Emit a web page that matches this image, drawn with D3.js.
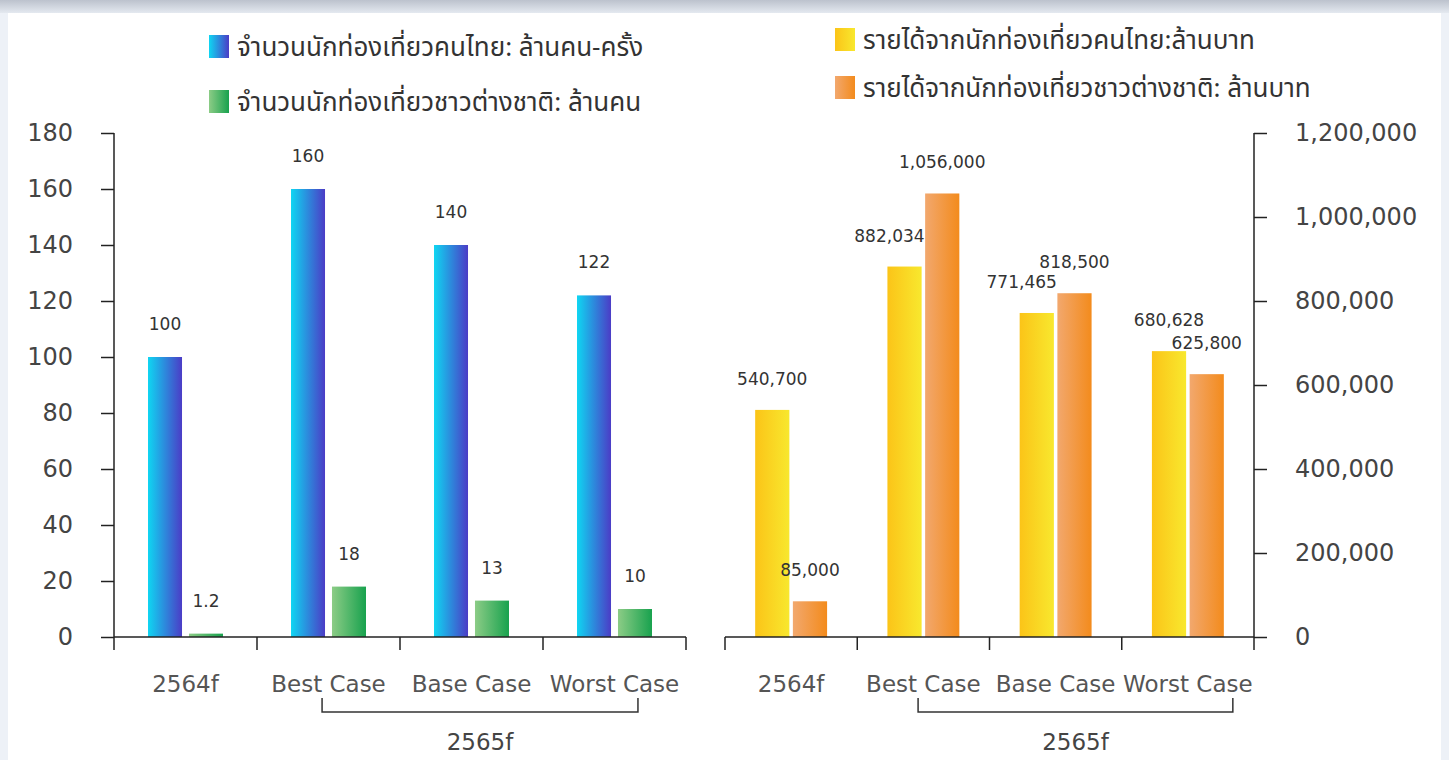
<!DOCTYPE html>
<html>
<head>
<meta charset="utf-8">
<script src="https://cdn.jsdelivr.net/npm/d3@7"></script>
<style>
  html, body { margin: 0; padding: 0; background: #fff; }
  svg { display: block; }
  text { font-family: "DejaVu Sans", sans-serif; }
  .legend text { font-family: "Noto Sans Thai", "Noto Sans", "DejaVu Sans", sans-serif; }
</style>
</head>
<body>
<svg id="chart" width="1449" height="760"></svg>
<script>
var categories = ["2564f", "Best Case", "Base Case", "Worst Case"];
var groupLabel = "2565f";
var groupCategories = ["Best Case", "Worst Case"];

var thaiTourists = [100, 160, 140, 122];
var foreignTourists = [1.2, 18, 13, 10];
var touristTicks = [0, 20, 40, 60, 80, 100, 120, 140, 160, 180];

var thaiRevenue = [540700, 882034, 771465, 680628];
var foreignRevenue = [85000, 1056000, 818500, 625800];
var revenueTicks = [0, 200000, 400000, 600000, 800000, 1000000, 1200000];

var legendTourists = ["จำนวนนักท่องเที่ยวคนไทย: ล้านคน-ครั้ง", "จำนวนนักท่องเที่ยวชาวต่างชาติ: ล้านคน"];
var legendRevenue = ["รายได้จากนักท่องเที่ยวคนไทย:ล้านบาท", "รายได้จากนักท่องเที่ยวชาวต่างชาติ: ล้านบาท"];

var svg = d3.select("svg#chart");
var defs = svg.append("defs");

function gradient(id, from, to) {
    var g = defs.append("linearGradient").attr("id", id)
        .attr("x1", 0).attr("x2", 1).attr("y1", 0).attr("y2", 0);
    g.append("stop").attr("offset", "0%").attr("stop-color", from);
    g.append("stop").attr("offset", "100%").attr("stop-color", to);
}
gradient("gBlue", "#0fd6f2", "#4b3cc6");
gradient("gGreen", "#8ccc86", "#18a24e");
gradient("gYellow", "#fbc418", "#f8e82e");
gradient("gOrange", "#f2a86e", "#f38b1c");

var shade = defs.append("linearGradient").attr("id", "gTop")
    .attr("x1", 0).attr("x2", 0).attr("y1", 0).attr("y2", 1);
shade.append("stop").attr("offset", "0%").attr("stop-color", "#bcc2cd");
shade.append("stop").attr("offset", "100%").attr("stop-color", "#e4e9f0");

// frame
svg.append("rect").attr("width", 1449).attr("height", 760).attr("fill", "#edf1f7");
svg.append("rect").attr("width", 1449).attr("height", 13).attr("fill", "url(#gTop)");
svg.append("rect").attr("x", 8).attr("y", 13).attr("width", 1433).attr("height", 747).attr("fill", "#fff");

var y0 = 637, yTop = 133;

function drawChart(cfg) {
    var x = d3.scaleBand().domain(categories).range(cfg.xRange);
    var inner = d3.scaleBand().domain([0, 1]).range([0, x.bandwidth()])
        .paddingInner(cfg.inner).paddingOuter(cfg.outer);
    var y = d3.scaleLinear().domain([0, cfg.max]).range([y0, yTop]);

    var g = svg.append("g");

    // bars
    cfg.series.forEach(function(s, si) {
        var next = cfg.series[si + 1];

        g.append("g").selectAll("rect")
            .data(s.values)
            .enter().append("rect")
            .attr("x", function(d, i) { return x(categories[i]) + inner(si); })
            .attr("y", function(d) { return y(d); })
            .attr("width", inner.bandwidth())
            .attr("height", function(d) { return y0 - y(d); })
            .attr("fill", "url(#" + s.fill + ")");

        // labels: pushed left when the neighbouring bar is taller
        g.append("g").selectAll("text")
            .data(s.values)
            .enter().append("text")
            .each(function(d, i) {
                var bx = x(categories[i]) + inner(si);
                var shift = cfg.shiftLabels && next && next.values[i] > d;
                d3.select(this)
                    .attr("x", shift ? bx + inner.bandwidth() + 3 : bx + inner.bandwidth() / 2)
                    .attr("text-anchor", shift ? "end" : "middle");
            })
            .attr("y", function(d) { return y(d) - cfg.labelGap; })
            .attr("font-size", 17)
            .attr("fill", "#333")
            .text(function(d) { return cfg.fmt(d); });
    });

    // y axis
    var axis = cfg.side === "left" ? d3.axisLeft(y) : d3.axisRight(y);
    axis.tickValues(cfg.ticks).tickSize(13).tickPadding(28).tickFormat(cfg.tickFmt);
    var ya = g.append("g")
        .attr("transform", "translate(" + cfg.yAxisX + ",0)")
        .call(axis);
    ya.select(".domain").attr("d", "M0," + yTop + "V" + y0).attr("stroke", "#222").attr("stroke-width", 1.5);
    ya.selectAll(".tick line").attr("stroke", "#222").attr("stroke-width", 1.5);
    ya.selectAll(".tick text").attr("font-size", 24).attr("fill", "#444")
        .attr("font-family", "DejaVu Sans, sans-serif");

    // x axis
    var bounds = categories.map(function(c) { return x(c); }).concat([cfg.xRange[1]]);
    g.append("line")
        .attr("x1", cfg.xRange[0]).attr("x2", cfg.xRange[1])
        .attr("y1", y0).attr("y2", y0)
        .attr("stroke", "#222").attr("stroke-width", 1.5);
    g.append("g").selectAll("line")
        .data(bounds)
        .enter().append("line")
        .attr("x1", function(d) { return d; }).attr("x2", function(d) { return d; })
        .attr("y1", y0).attr("y2", y0 + 13)
        .attr("stroke", "#222").attr("stroke-width", 1.5);

    g.append("g").selectAll("text")
        .data(categories)
        .enter().append("text")
        .attr("x", function(d) { return x(d) + x.bandwidth() / 2; })
        .attr("y", 692)
        .attr("text-anchor", "middle")
        .attr("font-size", 23)
        .attr("fill", "#555")
        .text(function(d) { return d; });

    // bracket for 2565f
    var bx1 = x(groupCategories[0]) + x.step() * cfg.bracket[0];
    var bx2 = x(groupCategories[1]) + x.step() * cfg.bracket[1];
    g.append("path")
        .attr("d", "M" + bx1 + ",698V712H" + bx2 + "V698")
        .attr("fill", "none").attr("stroke", "#333").attr("stroke-width", 1.5);
    g.append("text")
        .attr("x", (bx1 + bx2) / 2).attr("y", 750)
        .attr("text-anchor", "middle")
        .attr("font-size", 23).attr("fill", "#444")
        .text(groupLabel);

    // legend
    var lg = g.append("g").attr("class", "legend");
    cfg.series.forEach(function(s, si) {
        var ly = cfg.legendY[si];
        lg.append("rect")
            .attr("x", cfg.legendX).attr("y", ly - 12)
            .attr("width", 20).attr("height", 23)
            .attr("fill", "url(#" + s.fill + ")");
        lg.append("text")
            .attr("x", cfg.legendX + 28).attr("y", ly)
            .attr("dy", "0.35em")
            .attr("font-size", 26).attr("fill", "#333")
            .text(s.name);
    });
}

drawChart({
    xRange: [114, 686],
    inner: 0.17, outer: 0.83,
    max: 180,
    side: "left", yAxisX: 114,
    ticks: touristTicks,
    tickFmt: function(d) { return d; },
    fmt: function(d) { return d; },
    labelGap: 27,
    shiftLabels: false,
    bracket: [0.455, 0.664],
    legendX: 209, legendY: [47, 102],
    series: [
        { name: legendTourists[0], values: thaiTourists, fill: "gBlue" },
        { name: legendTourists[1], values: foreignTourists, fill: "gGreen" }
    ]
});

drawChart({
    xRange: [725, 1254],
    inner: 0.093, outer: 0.8,
    max: 1200000,
    side: "right", yAxisX: 1254,
    ticks: revenueTicks,
    tickFmt: d3.format(","),
    fmt: d3.format(","),
    labelGap: 25,
    shiftLabels: true,
    bracket: [0.46, 0.84],
    legendX: 835, legendY: [40, 88],
    series: [
        { name: legendRevenue[0], values: thaiRevenue, fill: "gYellow" },
        { name: legendRevenue[1], values: foreignRevenue, fill: "gOrange" }
    ]
});
</script>
</body>
</html>
